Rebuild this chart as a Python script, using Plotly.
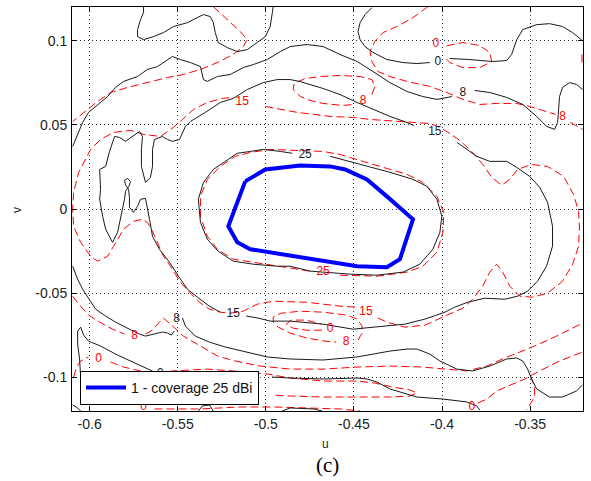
import plotly.graph_objects as go

U_RANGE = [-0.61, -0.32]
V_RANGE = [-0.12, 0.12]
U_TICKS = [-0.6, -0.55, -0.5, -0.45, -0.4, -0.35]
U_TICK_TEXT = ["-0.6", "-0.55", "-0.5", "-0.45", "-0.4", "-0.35"]
V_TICKS = [-0.1, -0.05, 0, 0.05, 0.1]
V_TICK_TEXT = ["-0.1", "-0.05", "0", "0.05", "0.1"]

# ---- coverage polygon (25 dBi) ----
cov_u = [-0.5117, -0.5003, -0.4805, -0.4635, -0.4550, -0.4426, -0.4313, -0.4165,
         -0.4239, -0.4313, -0.4482, -0.4805, -0.5088, -0.5162, -0.5213, -0.5117]
cov_v = [0.0164, 0.0235, 0.0259, 0.0253, 0.0235, 0.0176, 0.0075, -0.0061,
         -0.0298, -0.0346, -0.0340, -0.0286, -0.0239, -0.0198, -0.0103, 0.0164]

# ---- measured contours (black, solid) ----
blk0_a_u = [-0.5694, -0.5694, -0.5711, -0.5728, -0.5728, -0.5694, -0.5638, -0.5581, -0.5524, -0.5445,
            -0.5389, -0.5354, -0.5315, -0.5298, -0.5287, -0.5270, -0.5219, -0.5162, -0.5105, -0.5049,
            -0.5003, -0.4975, -0.4964, -0.4958]
blk0_a_v = [0.1202, 0.1167, 0.1125, 0.1066, 0.1024, 0.1006, 0.1024, 0.1048, 0.1084, 0.1107,
            0.1137, 0.1155, 0.1143, 0.1107, 0.1048, 0.0989, 0.0959, 0.0935, 0.0947, 0.0989,
            0.1024, 0.1084, 0.1167, 0.1202]

blk0_b_u = [-0.4398, -0.4437, -0.4465, -0.4477, -0.4465, -0.4437, -0.4392, -0.4313, -0.4222, -0.4143,
            -0.4069, None, -0.3956, -0.3843, -0.3712, -0.3633, -0.3605, -0.3576, -0.3542, -0.3463,
            -0.3390, -0.3316, -0.3259, -0.3203]
blk0_b_v = [0.1196, 0.1155, 0.1107, 0.1054, 0.1006, 0.0965, 0.0930, 0.0888, 0.0870, 0.0864,
            0.0870, None, 0.0894, 0.0888, 0.0876, 0.0882, 0.0918, 0.1006, 0.1066, 0.1095,
            0.1101, 0.1084, 0.1048, 0.1000]

blk0_c_u = [-0.6051, -0.6057, -0.6068, -0.6068, -0.6051, -0.6034, -0.6006, -0.5938, -0.5841, -0.5751,
            -0.5672, -0.5643]
blk0_c_v = [-0.0998, -0.0891, -0.0802, -0.0725, -0.0702, -0.0749, -0.0785, -0.0814, -0.0868, -0.0909,
            -0.0945, -0.0963]

blk8_a_u = [-0.6096, -0.6062, -0.6040, -0.6006, -0.5938, -0.5898, -0.5853, -0.5807, -0.5728, -0.5672,
            -0.5615, -0.5530, -0.5485, -0.5428, -0.5371, -0.5354, -0.5332, -0.5275, -0.5202, -0.5128,
            -0.5071, -0.4992, -0.4918, -0.4862, -0.4766, -0.4675, -0.4579, -0.4482, -0.4392, -0.4296,
            -0.4199, -0.4109, -0.4029, -0.3973, -0.3944, None, -0.3814, -0.3729, -0.3633, -0.3542,
            -0.3463, -0.3407, -0.3361, -0.3344, -0.3333, -0.3316, -0.3276, -0.3237, -0.3203]
blk8_a_v = [0.0372, 0.0455, 0.0514, 0.0574, 0.0633, 0.0668, 0.0722, 0.0758, 0.0787, 0.0829,
            0.0846, 0.0906, 0.0888, 0.0870, 0.0846, 0.0769, 0.0758, 0.0787, 0.0799, 0.0840,
            0.0858, 0.0888, 0.0935, 0.0965, 0.0977, 0.0965, 0.0918, 0.0876, 0.0817, 0.0751,
            0.0698, 0.0668, 0.0651, 0.0663, 0.0668, None, 0.0704, 0.0692, 0.0663, 0.0621,
            0.0550, 0.0491, 0.0473, 0.0514, 0.0669, 0.0722, 0.0751, 0.0740, 0.0710]

blk8_b_u = [-0.6096, -0.6068, -0.6040, -0.6011, -0.5966, -0.5909, -0.5853, -0.5774, -0.5717, -0.5683,
            -0.5632, -0.5587, -0.5558, -0.5536, -0.5519, None, -0.5473, -0.5456, -0.5400, -0.5320,
            -0.5230, -0.5134, -0.4992, -0.4862, -0.4675, -0.4482, -0.4296, -0.4199, -0.4143, -0.4069,
            -0.4012, -0.3916, -0.3826, -0.3729, -0.3633, -0.3576, -0.3542, -0.3514, -0.3492, -0.3463,
            -0.3390, -0.3316, -0.3237, -0.3203]
blk8_b_v = [-0.0340, -0.0417, -0.0476, -0.0524, -0.0595, -0.0636, -0.0672, -0.0714, -0.0743, -0.0755,
            -0.0743, -0.0731, -0.0737, -0.0749, -0.0725, None, -0.0648, -0.0696, -0.0755, -0.0791,
            -0.0820, -0.0844, -0.0879, -0.0891, -0.0897, -0.0879, -0.0844, -0.0832, -0.0832, -0.0862,
            -0.0903, -0.0951, -0.0962, -0.0933, -0.0891, -0.0885, -0.0903, -0.0951, -0.1010, -0.1069,
            -0.1117, -0.1117, -0.1081, -0.1046]

blk15_u = [-0.3916, -0.3860, -0.3803, -0.3729, -0.3633, -0.3576, -0.3503, -0.3446, -0.3401, -0.3373,
           -0.3373, -0.3407, -0.3458, -0.3514, -0.3571, -0.3644, -0.3758, -0.3854, -0.3928, -0.3984,
           -0.4097, -0.4211, -0.4352, -0.4448, -0.4505, -0.4579, -0.4675, -0.4862, -0.4975, -0.5043,
           -0.5111, None,
           -0.5258, -0.5321, -0.5388, -0.5445, -0.5496, -0.5547, -0.5604, -0.5643, -0.5660, -0.5672,
           -0.5683, -0.5711, -0.5728, -0.5751, -0.5774, -0.5774, -0.5779, -0.5796, -0.5802, -0.5785,
           -0.5768, -0.5774, -0.5796, -0.5802, -0.5813, -0.5841, -0.5870, -0.5909, -0.5926, -0.5943,
           -0.5938, -0.5943, -0.5909, -0.5887, -0.5858, -0.5830, -0.5796, -0.5745, -0.5717, -0.5700,
           -0.5706, -0.5706, -0.5683, -0.5655, -0.5643, -0.5643, -0.5632, -0.5587, -0.5558, -0.5530,
           -0.5490, -0.5456, -0.5428, -0.5343, -0.5258, -0.5185, -0.5105, -0.5015, -0.4935, -0.4862,
           -0.4805, -0.4675, -0.4579, -0.4482, -0.4392, -0.4296, -0.4199, -0.4160]
blk15_v = [0.0396, 0.0354, 0.0313, 0.0283, 0.0283, 0.0247, 0.0194, 0.0129, 0.0040, -0.0102,
           -0.0221, -0.0340, -0.0429, -0.0488, -0.0518, -0.0536, -0.0530, -0.0554, -0.0583, -0.0613,
           -0.0654, -0.0684, -0.0696, -0.0708, -0.0714, -0.0702, -0.0684, -0.0666, -0.0666, -0.0648,
           -0.0636, None,
           -0.0613, -0.0577, -0.0524, -0.0476, -0.0399, -0.0316, -0.0239, -0.0162, -0.0061, 0.0016,
           0.0063, 0.0058, 0.0016, -0.0020, 0.0010, 0.0069, 0.0117, 0.0141, 0.0170, 0.0182,
           0.0164, 0.0141, 0.0105, 0.0058, -0.0002, -0.0138, -0.0198, -0.0120, -0.0044, 0.0058,
           0.0117, 0.0235, 0.0253, 0.0342, 0.0431, 0.0425, 0.0402, 0.0443, 0.0461, 0.0431,
           0.0354, 0.0253, 0.0158, 0.0188, 0.0253, 0.0354, 0.0413, 0.0431, 0.0413, 0.0402,
           0.0413, 0.0491, 0.0520, 0.0574, 0.0633, 0.0657, 0.0710, 0.0751, 0.0769, 0.0769,
           0.0757, 0.0716, 0.0680, 0.0633, 0.0592, 0.0550, 0.0514, 0.0496]

blk25_u = [-0.4635, -0.4505, -0.4409, -0.4296, -0.4165, -0.4086, -0.4029, -0.4001, -0.4012, -0.4052,
           -0.4126, -0.4222, -0.4369, -0.4522, -0.4749, -0.4862, -0.4935, -0.5071, -0.5185, -0.5270,
           -0.5332, -0.5371, -0.5383, -0.5354, -0.5298, -0.5241, -0.5162, -0.5088, -0.5015, -0.4918,
           -0.4850]
blk25_v = [0.0313, 0.0277, 0.0247, 0.0218, 0.0176, 0.0135, 0.0058, -0.0043, -0.0138, -0.0239,
           -0.0328, -0.0375, -0.0393, -0.0387, -0.0369, -0.0340, -0.0340, -0.0328, -0.0310, -0.0251,
           -0.0180, -0.0079, 0.0058, 0.0158, 0.0235, 0.0277, 0.0331, 0.0342, 0.0354, 0.0342,
           0.0331]

blk_low_u = [-0.4964, -0.4862, -0.4675, -0.4482, -0.4426, -0.4369, -0.4296, -0.4199, -0.4143, -0.3995,
             -0.3860, -0.3803, -0.3786, None,
             -0.6096, -0.6068, -0.6051, None,
             -0.5383, -0.5360, -0.5320, -0.5298, None,
             -0.4907, -0.4862, -0.4726, -0.4681]
blk_low_v = [-0.0998, -0.1004, -0.1010, -0.1004, -0.1010, -0.1028, -0.1069, -0.1099, -0.1117, -0.1129,
             -0.1146, -0.1170, -0.1194, None,
             -0.1164, -0.1182, -0.1200, None,
             -0.1200, -0.1170, -0.1164, -0.1200, None,
             -0.1200, -0.1182, -0.1188, -0.1200]

# ---- simulated contours (red, dashed) ----
red0_a_u = [-0.5298, -0.5219, -0.5145, -0.5105, -0.5128, -0.5185, -0.5275, -0.5371, -0.5468, -0.5558,
            -0.5672, -0.5785, -0.5881, -0.5955, -0.6011, -0.6068, -0.6096]
red0_a_v = [0.1202, 0.1125, 0.1054, 0.1007, 0.0965, 0.0918, 0.0870, 0.0829, 0.0799, 0.0781,
            0.0751, 0.0722, 0.0692, 0.0639, 0.0591, 0.0544, 0.0520]

red0_b_u = [-0.3973, -0.3882, -0.3786, -0.3729, -0.3718, -0.3786, -0.3882, -0.3956, -0.3990]
red0_b_v = [0.0970, 0.0989, 0.0971, 0.0929, 0.0876, 0.0840, 0.0840, 0.0870, 0.0906]

red0_c_u = [-0.6091, -0.6074, -0.6051, -0.6006, None, -0.5881, -0.5807, -0.5711, -0.5626, -0.5530,
            -0.5445, -0.5332, -0.5185, -0.4992, -0.4862, -0.4675, -0.4482, -0.4381, -0.4284, -0.4182,
            -0.4143, -0.4182, -0.4296, -0.4482, -0.4675, -0.4862, -0.4964]
red0_c_v = [-0.0998, -0.0939, -0.0903, -0.0879, None, -0.0909, -0.0939, -0.0962, -0.0974, -0.0962,
            -0.0956, -0.0951, -0.0962, -0.0980, -0.1004, -0.1022, -0.1022, -0.1034, -0.1057, -0.1075,
            -0.1093, -0.1111, -0.1117, -0.1117, -0.1117, -0.1111, -0.1105]

red0_d_u = [-0.5632, -0.5377, -0.5145, -0.4958, -0.4766, -0.4579, -0.4465]
red0_d_v = [-0.1188, -0.1188, -0.1176, -0.1176, -0.1182, -0.1188, -0.1200]

red0_e_u = [-0.3797, -0.3746, -0.3690, -0.3616, -0.3531, -0.3446, -0.3333, -0.3203]
red0_e_v = [-0.1153, -0.1129, -0.1081, -0.1046, -0.1010, -0.0962, -0.0903, -0.0850]

red0_f_u = [-0.3497, -0.3475, -0.3475, -0.3503, -0.3520]
red0_f_v = [-0.0993, -0.1057, -0.1117, -0.1170, -0.1194]

red0_g_u = [-0.4681, -0.4766, -0.4845, -0.4884, -0.4856, -0.4771, -0.4686]
red0_g_v = [-0.0720, -0.0720, -0.0708, -0.0684, -0.0660, -0.0660, -0.0684]

red8_a_u = [-0.4398, -0.4381, -0.4398, -0.4465, -0.4579, -0.4692, -0.4777, -0.4839, -0.4845, -0.4805,
            -0.4749, -0.4675, -0.4562, -0.4505]
red8_a_v = [0.0680, 0.0728, 0.0769, 0.0787, 0.0793, 0.0787, 0.0775, 0.0746, 0.0710, 0.0669,
            0.0645, 0.0627, 0.0615, 0.0621]

red8_b_u = [-0.4080, -0.4165, -0.4256, -0.4335, -0.4381, -0.4409, -0.4398, -0.4364, -0.4296, -0.4199,
            -0.4069, -0.3973, -0.3882, -0.3786, -0.3690, -0.3576, -0.3503, -0.3407, -0.3356, None,
            -0.3271, -0.3203]
red8_b_v = [0.1202, 0.1137, 0.1084, 0.1048, 0.0995, 0.0935, 0.0876, 0.0817, 0.0787, 0.0758,
            0.0728, 0.0692, 0.0651, 0.0621, 0.0627, 0.0627, 0.0609, 0.0579, 0.0562, None,
            0.0514, 0.0473]

red8_c_u = [-0.6096, -0.6062, -0.6006, -0.5943, -0.5870, -0.5802, None, -0.5683, -0.5643, -0.5609,
            -0.5581, -0.5541, -0.5468, -0.5371, -0.5275, -0.5173, -0.5032, -0.4862, -0.4675, -0.4482,
            -0.4296, -0.4109, -0.3973, -0.3860, -0.3746, -0.3644, -0.3559, -0.3474, -0.3350, -0.3203]
red8_c_v = [-0.0518, -0.0565, -0.0630, -0.0672, -0.0714, -0.0743, None, -0.0743, -0.0719, -0.0678,
            -0.0648, -0.0684, -0.0755, -0.0814, -0.0873, -0.0903, -0.0933, -0.0951, -0.0951, -0.0939,
            -0.0933, -0.0939, -0.0951, -0.0962, -0.0933, -0.0885, -0.0850, -0.0814, -0.0755, -0.0678]

red8_d_u = [-0.4477, -0.4454, -0.4454, -0.4482, -0.4539, -0.4675, -0.4805, -0.4913, -0.4958, -0.4958,
            -0.4930, -0.4862, -0.4766, -0.4664, -0.4601]
red8_d_v = [-0.0779, -0.0738, -0.0696, -0.0654, -0.0631, -0.0613, -0.0607, -0.0619, -0.0642, -0.0672,
            -0.0702, -0.0737, -0.0767, -0.0785, -0.0791]

red15_u = [-0.5003, -0.4822, -0.4635, -0.4505, -0.4409, -0.4256, -0.4069, -0.4012, -0.3956, -0.3899,
           -0.3826, -0.3769, -0.3718, -0.3661, -0.3616, -0.3571, -0.3492, -0.3401, -0.3310, -0.3254,
           -0.3225, -0.3220, -0.3225, -0.3259, -0.3316, -0.3401, -0.3486, -0.3559, -0.3616, -0.3656,
           -0.3690, -0.3729, -0.3769, -0.3826, -0.3882, -0.3984, -0.4097, -0.4211, -0.4313, -0.4375,
           None,
           -0.4494, -0.4579, -0.4766, -0.4958, -0.5049, -0.5128, -0.5202, -0.5258, -0.5320, -0.5377,
           -0.5434, -0.5485, -0.5541, -0.5581, -0.5615, -0.5643, -0.5672, -0.5700, -0.5751, -0.5807,
           -0.5864, -0.5898, -0.5955, -0.5994, -0.6051, -0.6091, -0.6096, -0.6091, -0.6062, -0.6023,
           -0.5994, -0.5938, -0.5864, -0.5768, -0.5694, -0.5598, -0.5524, -0.5473, -0.5411, -0.5332,
           -0.5247, -0.5190]
red15_v = [0.0609, 0.0574, 0.0550, 0.0544, 0.0532, 0.0520, 0.0508, 0.0485, 0.0449, 0.0407,
           0.0336, 0.0265, 0.0188, 0.0141, 0.0176, 0.0235, 0.0265, 0.0253, 0.0194, 0.0087,
           -0.0014, -0.0108, -0.0221, -0.0328, -0.0429, -0.0500, -0.0524, -0.0518, -0.0458, -0.0375,
           -0.0328, -0.0375, -0.0458, -0.0536, -0.0589, -0.0636, -0.0690, -0.0702, -0.0672, -0.0642,
           None,
           -0.0583, -0.0577, -0.0554, -0.0548, -0.0565, -0.0607, -0.0619, -0.0613, -0.0595, -0.0554,
           -0.0494, -0.0435, -0.0340, -0.0281, -0.0198, -0.0132, -0.0079, -0.0061, -0.0073, -0.0120,
           -0.0221, -0.0281, -0.0310, -0.0281, -0.0198, -0.0103, -0.0002, 0.0099, 0.0218, 0.0295,
           0.0354, 0.0413, 0.0455, 0.0467, 0.0443, 0.0431, 0.0485, 0.0532, 0.0591, 0.0633,
           0.0657, 0.0663]

red25_u = [-0.4579, -0.4369, -0.4199, -0.4109, -0.4029, -0.3995, -0.3990, -0.4029, -0.4109, -0.4199,
           -0.4392, -0.4579, -0.4675, -0.4805, -0.4975, -0.5088, -0.5173, -0.5258, -0.5332, -0.5371,
           -0.5371, -0.5332, -0.5275, -0.5185, -0.5032, -0.4862, -0.4749]
red25_v = [-0.0393, -0.0399, -0.0375, -0.0340, -0.0257, -0.0138, -0.0020, 0.0075, 0.0158, 0.0206,
           0.0265, 0.0324, 0.0342, 0.0348, 0.0354, 0.0336, 0.0313, 0.0253, 0.0176, 0.0075,
           -0.0043, -0.0162, -0.0239, -0.0298, -0.0322, -0.0352, -0.0369]

red_edge_u = [-0.3206, -0.3206]
red_edge_v = [0.0918, 0.0847]

# ---- contour labels ----
blk_lab_u = [-0.4024, -0.3882, -0.4041, -0.4777, -0.5185, -0.5507, -0.5598]
blk_lab_v = [0.0873, 0.0692, 0.0455, 0.0318, -0.0625, -0.0651, -0.0980]
blk_lab_t = ["0", "8", "15", "25", "15", "8", "0"]

red_lab_u = [-0.4035, -0.4448, -0.5134, -0.3316, -0.4675, -0.4432, -0.4635, -0.4545, -0.5745, -0.5949,
             -0.5694, -0.3831]
red_lab_v = [0.0982, 0.0639, 0.0633, 0.0544, -0.0375, -0.0613, -0.0714, -0.0791, -0.0755, -0.0891,
             -0.1176, -0.1176]
red_lab_t = ["0", "8", "15", "8", "25", "15", "0", "8", "8", "0", "0", "0"]

BLACK = "#1a1a1a"
RED = "#ff0000"
BLUE = "#0000ff"

fig = go.Figure()

black_lines = [(blk0_a_u, blk0_a_v), (blk0_b_u, blk0_b_v), (blk0_c_u, blk0_c_v),
               (blk8_a_u, blk8_a_v), (blk8_b_u, blk8_b_v), (blk15_u, blk15_v),
               (blk25_u, blk25_v), (blk_low_u, blk_low_v)]
red_lines = [(red0_a_u, red0_a_v), (red0_b_u, red0_b_v), (red0_c_u, red0_c_v),
             (red0_d_u, red0_d_v), (red0_e_u, red0_e_v), (red0_f_u, red0_f_v),
             (red0_g_u, red0_g_v), (red8_a_u, red8_a_v), (red8_b_u, red8_b_v),
             (red8_c_u, red8_c_v), (red8_d_u, red8_d_v), (red15_u, red15_v),
             (red25_u, red25_v), (red_edge_u, red_edge_v)]

for uu, vv in red_lines:
    fig.add_trace(go.Scatter(x=uu, y=vv, mode="lines", showlegend=False, hoverinfo="skip",
                             line=dict(color=RED, width=1, dash="8px,4px")))
for uu, vv in black_lines:
    fig.add_trace(go.Scatter(x=uu, y=vv, mode="lines", showlegend=False, hoverinfo="skip",
                             line=dict(color=BLACK, width=1)))

fig.add_trace(go.Scatter(x=blk_lab_u, y=blk_lab_v, mode="text", text=blk_lab_t, showlegend=False,
                         textfont=dict(family="Liberation Sans, Arial", size=12, color=BLACK),
                         hoverinfo="skip"))
fig.add_trace(go.Scatter(x=red_lab_u, y=red_lab_v, mode="text", text=red_lab_t, showlegend=False,
                         textfont=dict(family="Liberation Sans, Arial", size=12, color=RED),
                         hoverinfo="skip"))

fig.add_trace(go.Scatter(x=cov_u, y=cov_v, mode="lines", name="1 - coverage 25 dBi",
                         line=dict(color=BLUE, width=4), hoverinfo="skip"))

axis_common = dict(showline=True, linecolor="black", linewidth=1, mirror="ticks",
                   ticks="inside", ticklen=5, tickcolor="black", tickwidth=1,
                   showgrid=True, gridcolor="#333333", gridwidth=1, griddash="1px,3px",
                   zeroline=False, automargin=False,
                   tickfont=dict(family="Liberation Sans, Arial", size=14, color="#222222"))

fig.update_layout(
    width=591, height=481,
    margin=dict(l=72, r=8, t=7, b=70),
    paper_bgcolor="white", plot_bgcolor="white",
    xaxis=dict(range=U_RANGE, tickvals=U_TICKS, ticktext=U_TICK_TEXT, ticklabelstandoff=0, **axis_common),
    yaxis=dict(range=V_RANGE, tickvals=V_TICKS, ticktext=V_TICK_TEXT, ticklabelstandoff=1, **axis_common),
    showlegend=True,
    legend=dict(x=0.0157, y=0.0149, xanchor="left", yanchor="bottom",
                bgcolor="white", bordercolor="black", borderwidth=1,
                font=dict(family="Liberation Sans, Arial", size=14, color="#111111"),
                itemwidth=40),
    annotations=[
        dict(text="u", x=325, y=444, xref="paper", yref="paper", showarrow=False),
        dict(text="v", x=17, y=210, xref="paper", yref="paper", showarrow=False, textangle=-90),
        dict(text="(c)", x=327, y=465, xref="paper", yref="paper", showarrow=False),
    ],
)

# convert pixel anchors of annotations to paper coordinates
W_PLOT = 591 - 72 - 8
H_PLOT = 481 - 7 - 70
for a in fig.layout.annotations:
    px, py = a.x, a.y
    a.x = (px - 72) / W_PLOT
    a.y = (481 - 70 - py) / H_PLOT
    a.xanchor = "center"
    a.yanchor = "middle"
    if a.text == "(c)":
        a.font = dict(family="Liberation Serif, Times New Roman", size=21, color="black")
    else:
        a.font = dict(family="Liberation Sans, Arial", size=12, color="#222222")

fig.write_html("out.html")
